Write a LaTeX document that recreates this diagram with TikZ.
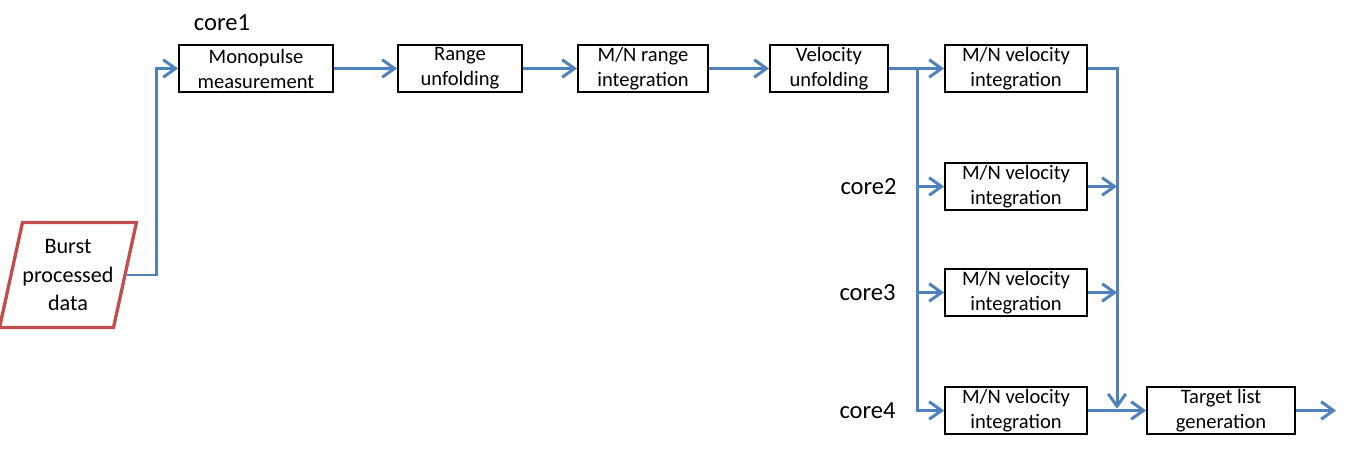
\documentclass[tikz,border=0pt]{standalone}
\usepackage{fontspec}
\setmainfont{Carlito}
\usetikzlibrary{arrows.meta,shapes.geometric}
\definecolor{flowblue}{RGB}{79,129,189}
\definecolor{burstred}{RGB}{192,80,77}
\tikzset{
  blk/.style={draw,line width=1.1pt,minimum height=0.94cm,inner sep=0pt,align=center,font=\fontsize{11.7}{14.2}\selectfont},
  flow/.style={flowblue,line width=1.7pt,-{Straight Barb[length=7pt,width=10pt]}},
  corelbl/.style={inner sep=0pt,font=\fontsize{14}{16}\selectfont}
}
\begin{document}
\begin{tikzpicture}
\useasboundingbox (0,0) rectangle (27.06,8.98);
% input data
\node[trapezium,trapezium left angle=72,trapezium right angle=108,trapezium stretches=true,draw=burstred,line width=1.9pt,minimum width=2.5cm,minimum height=2.1cm,inner sep=0pt,align=center,font=\fontsize{12.6}{16}\selectfont] (burst) at (1.36,3.48) {Burst\\processed\\data};
% core1 chain
\node[blk,minimum width=3.08cm] (mono) at (5.12,7.61) {Monopulse\\measurement};
\node[blk,minimum width=2.48cm] (range) at (9.2,7.61) {Range\\unfolding};
\node[blk,minimum width=2.6cm] (mnrange) at (12.86,7.61) {M/N range\\integration};
\node[blk,minimum width=2.36cm] (vel) at (16.58,7.61) {Velocity\\unfolding};
% velocity integration on four cores
\node[blk,minimum width=2.84cm] (mnv1) at (20.32,7.61) {M/N velocity\\integration};
\node[blk,minimum width=2.84cm] (mnv2) at (20.32,5.25) {M/N velocity\\integration};
\node[blk,minimum width=2.84cm] (mnv3) at (20.32,3.13) {M/N velocity\\integration};
\node[blk,minimum width=2.84cm] (mnv4) at (20.32,0.77) {M/N velocity\\integration};
\node[blk,minimum width=2.96cm] (target) at (24.42,0.77) {Target list\\generation};
% core labels
\node[corelbl] (c1) at (4.44,8.52) {core1};
\node[corelbl,anchor=east] (c2) at (17.94,5.25) {core2};
\node[corelbl,anchor=east] (c3) at (17.92,3.13) {core3};
\node[corelbl,anchor=east] (c4) at (17.92,0.77) {core4};
\coordinate (split) at (18.34,7.61);
\coordinate (merge) at (22.34,0.77);
\coordinate (out) at (26.72,0.77);
% connectors
\draw[flow] (burst.east) -- ++(0.6,0) |- (mono.west);
\draw[flow] (mono) -- (range);
\draw[flow] (range) -- (mnrange);
\draw[flow] (mnrange) -- (vel);
\draw[flow] (vel) -- (mnv1);
\draw[flow] (split) |- (mnv4.west);
\draw[flow] (split |- mnv2) -- (mnv2.west);
\draw[flow] (split |- mnv3) -- (mnv3.west);
\draw[flow] (mnv1.east) -| ([yshift=1pt]merge);
\draw[flow] (mnv2.east) -- (merge |- mnv2);
\draw[flow] (mnv3.east) -- (merge |- mnv3);
\draw[flow] (mnv4) -- (target);
\draw[flow] (target) -- (out);
\end{tikzpicture}
\end{document}
